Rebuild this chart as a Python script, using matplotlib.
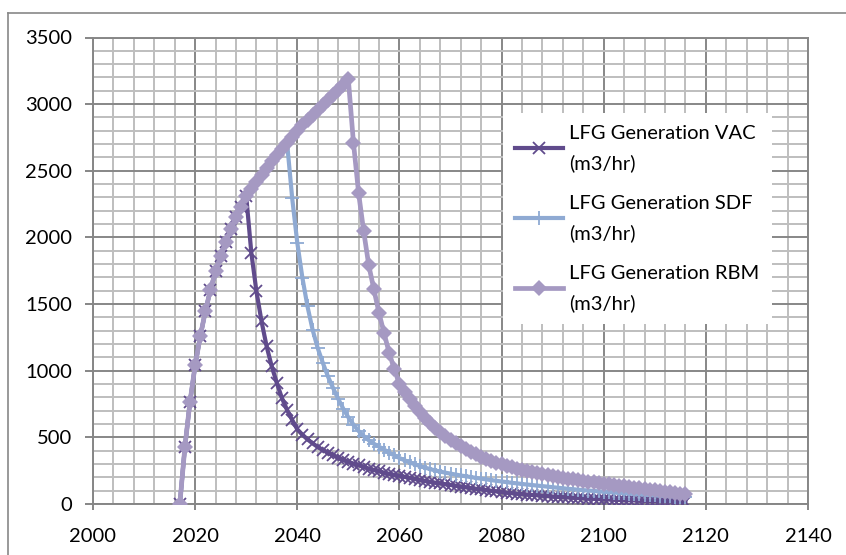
import numpy as np
import matplotlib
matplotlib.use('Agg')
import matplotlib.pyplot as plt
from matplotlib.lines import Line2D
from matplotlib.ticker import MultipleLocator

plt.rcParams['font.family'] = ['Lato', 'DejaVu Sans']

years = np.arange(2017, 2117)

# shared build-up, 2017-2050
rise = [0, 430, 769, 1040, 1257, 1445, 1608, 1745, 1860, 1968,
        2060, 2150, 2232, 2310, 2365, 2418, 2470, 2520, 2570, 2618,
        2665, 2710, 2755, 2798, 2840, 2880, 2920, 2958, 2995, 3032,
        3068, 3103, 3140, 3185]

# decay after closure
vac_tail = [1885, 1595, 1370, 1182, 1032, 907, 794, 706, 631, 560,
            520, 485, 455, 428, 405, 385, 366, 348, 332, 317,
            303, 290, 278, 266, 255, 245, 235, 226, 218, 212,
            204, 196, 188, 180, 173, 166, 160, 154, 148, 143,
            137, 131, 125, 119, 114, 109, 104, 99, 94, 89,
            85, 81, 77, 74, 71, 68, 65, 62, 59, 56,
            54, 51, 49, 47, 45, 43, 41, 39, 37, 35,
            34, 32, 31, 29, 28, 27, 25, 24, 23, 22,
            21, 20, 19, 18, 17, 16]
sdf_tail = [2295, 1960, 1697, 1482, 1307, 1170, 1059, 957, 871, 790,
            715, 650, 595, 548, 510, 478, 452, 430, 408, 385,
            365, 345, 328, 312, 298, 285, 273, 262, 252, 243,
            235, 228, 221, 214, 208, 202, 196, 190, 185, 179,
            174, 169, 164, 159, 155, 150, 146, 142, 138, 134,
            130, 126, 122, 118, 114, 111, 107, 104, 101, 98,
            95, 92, 89, 86, 83, 80, 78, 75, 72, 70,
            67, 65, 62, 60, 58, 55, 53, 51]
rbm_tail = [2710, 2335, 2046, 1790, 1610, 1434, 1280, 1134, 1010, 900,
            840, 785, 735, 690, 648, 608, 573, 540, 510, 481,
            457, 434, 412, 392, 373, 356, 340, 325, 311, 298,
            286, 275, 264, 254, 245, 237, 229, 222, 215, 208,
            202, 196, 190, 184, 179, 173, 168, 163, 158, 153,
            148, 143, 138, 133, 128, 123, 118, 113, 108, 103,
            98, 93, 88, 83, 78, 73]

vac = rise[:2031 - 2017] + vac_tail
sdf = rise[:2039 - 2017] + sdf_tail
rbm = rise[:2051 - 2017] + rbm_tail

labels = ['LFG Generation VAC\n(m3/hr)',
          'LFG Generation SDF\n(m3/hr)',
          'LFG Generation RBM\n(m3/hr)']

W, H = 846, 555
fig = plt.figure(figsize=(W / 100, H / 100), dpi=100)
ax = fig.add_axes([93 / W, 51 / H, 715 / W, 466.5 / H])

ax.plot(years, vac, color='#604B8C', lw=3.0, marker='x', ms=9, mew=1.3,
        label=labels[0], zorder=3)
ax.plot(years, sdf, color='#8FAAD3', lw=3.0, marker='+', ms=10, mew=1.3,
        label=labels[1], zorder=4)
ax.plot(years, rbm, color='#A599C2', lw=3.4, marker='D', ms=8, mew=0,
        label=labels[2], zorder=5)

ax.set_xlim(2000, 2140)
ax.set_ylim(0, 3500)
ax.xaxis.set_major_locator(MultipleLocator(20))
ax.xaxis.set_minor_locator(MultipleLocator(4))
ax.yaxis.set_major_locator(MultipleLocator(500))
ax.yaxis.set_minor_locator(MultipleLocator(100))

ax.grid(which='minor', color='#BEBEBE', lw=1.4, zorder=0)
ax.grid(which='major', color='#878787', lw=1.4, zorder=1)
ax.set_axisbelow(True)

for side in ['top', 'right']:
    ax.spines[side].set_color('#878787')
    ax.spines[side].set_linewidth(1.4)
for side in ['left', 'bottom']:
    ax.spines[side].set_color('#868686')
    ax.spines[side].set_linewidth(1.4)

ax.tick_params(which='minor', length=0)
ax.tick_params(which='major', colors='#868686', labelcolor='black',
               labelsize=14.5, width=1.4)
ax.tick_params(axis='y', which='major', length=6, pad=9)
ax.tick_params(axis='x', which='major', length=4, pad=13)

leg = ax.legend(loc='upper left', bbox_to_anchor=(503 / W, 1 - 113 / H),
                bbox_transform=fig.transFigure, fontsize=14.5, frameon=True,
                fancybox=False, edgecolor='none', facecolor='white',
                framealpha=1, borderaxespad=0, borderpad=0.6,
                handlelength=2.4, handletextpad=0.3, labelspacing=1.15)
for t in leg.get_texts():
    t.set_linespacing(1.8)
leg.set_zorder(10)

# outer chart frame
fig.add_artist(Line2D([8 / W, 8 / W], [0, 1 - 13 / H], color='#888888', lw=1.2))
fig.add_artist(Line2D([8 / W, 1], [1 - 13 / H, 1 - 13 / H], color='#888888', lw=1.2))

fig.savefig('out.png', dpi=100)
